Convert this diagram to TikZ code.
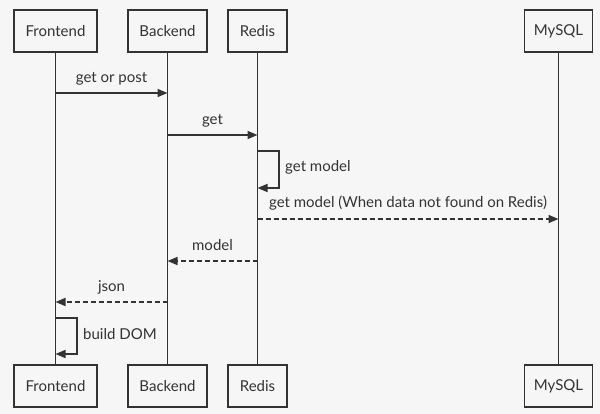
\documentclass[tikz,border=0pt]{standalone}
\usepackage{fontspec}
\setmainfont{Lato}
\usetikzlibrary{arrows.meta}
\definecolor{bg}{HTML}{F6F6F6}
\definecolor{ink}{HTML}{333333}
\tikzset{
  actor/.style={draw=ink, fill=bg, line width=1.5pt, minimum height=42pt, inner sep=0pt, text=ink, font=\fontsize{15}{17}\selectfont},
  life/.style={draw=ink, line width=1.5pt},
  msg/.style={draw=ink, line width=1.5pt, -{Triangle[length=10pt,width=8pt]}},
  ret/.style={msg, dash pattern=on 5pt off 3pt},
  lbl/.style={text=ink, font=\fontsize{15}{17}\selectfont, inner sep=0pt},
}
\begin{document}
\begin{tikzpicture}[x=1pt,y=-1pt]
\fill[bg] (0,0) rectangle (600,414);
\useasboundingbox (0,0) rectangle (600,414);
% lifelines
\coordinate (fT) at (55.5,31); \coordinate (fB) at (55.5,386);
\coordinate (bT) at (167.5,31); \coordinate (bB) at (167.5,386);
\coordinate (rT) at (257.5,31); \coordinate (rB) at (257.5,386);
\coordinate (mT) at (558.5,31); \coordinate (mB) at (558.5,386);
\draw[life] (fT) -- (fB);
\draw[life] (bT) -- (bB);
\draw[life] (rT) -- (rB);
\draw[life] (mT) -- (mB);
% actors
\node[actor, minimum width=83pt] (f1) at (55.5,31) {Frontend};
\node[actor, minimum width=79pt] (b1) at (167.5,31) {Backend};
\node[actor, minimum width=59pt] (r1) at (257.5,31) {Redis};
\node[actor, minimum width=68pt] (m1) at (558.5,31) {MySQL};
\node[actor, minimum width=83pt] (f2) at (55.5,386) {Frontend};
\node[actor, minimum width=79pt] (b2) at (167.5,386) {Backend};
\node[actor, minimum width=59pt] (r2) at (257.5,386) {Redis};
\node[actor, minimum width=68pt] (m2) at (558.5,386) {MySQL};
% message anchors
\coordinate (a1) at (55.5,93);  \coordinate (a2) at (167.5,93);
\coordinate (c1) at (167.5,135); \coordinate (c2) at (257.5,135);
\coordinate (s1) at (257.5,151); \coordinate (s2) at (279,151); \coordinate (s3) at (279,188); \coordinate (s4) at (257.5,188);
\coordinate (d1) at (257.5,219); \coordinate (d2) at (558.5,219);
\coordinate (e1) at (257.5,261); \coordinate (e2) at (167.5,261);
\coordinate (g1) at (167.5,302); \coordinate (g2) at (55.5,302);
\coordinate (h1) at (55.5,318); \coordinate (h2) at (77,318); \coordinate (h3) at (77,354); \coordinate (h4) at (55.5,354);
\draw[msg] (a1) -- (a2);
\draw[msg] (c1) -- (c2);
\draw[msg] (s1) -- (s2) -- (s3) -- (s4);
\draw[ret] (d1) -- (d2);
\draw[ret] (e1) -- (e2);
\draw[ret] (g1) -- (g2);
\draw[msg] (h1) -- (h2) -- (h3) -- (h4);
% labels
\node[lbl] (l1) at (111.5,79) {get or post};
\node[lbl] (l2) at (212.5,121) {get};
\node[lbl, anchor=west] (l3) at (285,167) {get model};
\node[lbl] (l4) at (408,203) {get model (When data not found on Redis)};
\node[lbl] (l5) at (212.5,245) {model};
\node[lbl] (l6) at (111.5,287) {json};
\node[lbl, anchor=west] (l7) at (83,334) {build DOM};
\end{tikzpicture}
\end{document}
